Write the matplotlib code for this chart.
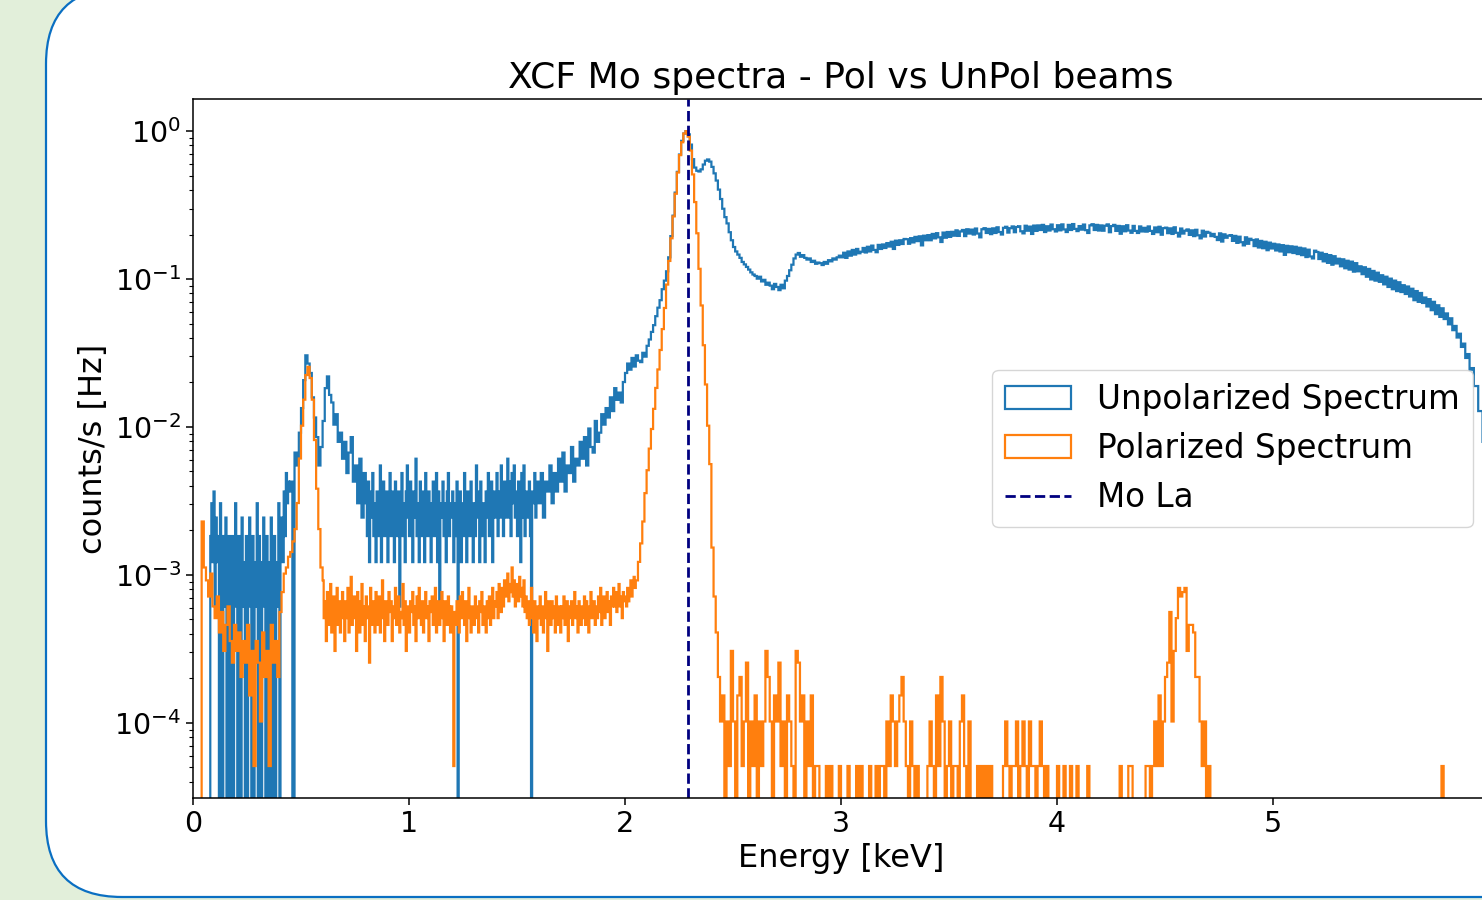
import numpy as np
import matplotlib.pyplot as plt
from matplotlib.patches import FancyBboxPatch

e_max = 6.0
mo_la = 2.293  # keV

# one count in a bin -> counts/s
unpol_rate_per_count = 6.1e-4
pol_rate_per_count = 5.1e-5

# Unpolarized spectrum, counts per bin (5 eV bins where noisy, 10 eV elsewhere)
unpol_000_045 = [0, 0, 0, 0, 0, 0, 0, 0, 0, 0, 0, 0, 0, 0, 0, 0,
                 3, 5, 2, 6, 1, 4, 2, 3, 0, 5,
                 2, 0, 3, 1, 4, 0, 2, 3, 0, 1,
                 3, 0, 2, 5, 1, 0, 3, 2, 0, 4,
                 1, 2, 0, 3, 0, 2, 4, 1, 0, 3,
                 0, 2, 1, 5, 0, 3, 1, 0, 2, 4,
                 1, 0, 3, 2, 0, 1, 4, 0, 2, 3,
                 0, 2, 1, 5, 0, 3, 4, 2, 6, 3,
                 8, 5, 7, 6]
unpol_045_080 = [7, 0, 11, 9, 15, 22, 34, 50, 44, 38,
                 26, 19, 14, 9, 12, 18, 30, 36, 27, 24,
                 17, 20, 13, 15, 10, 13, 8, 11, 14, 7,
                 9, 5, 10, 4, 8]
unpol_080_160 = [5, 3, 7, 2, 6, 4, 8, 3, 5, 2,
                 6, 4, 3, 9, 2, 5, 7, 3, 4, 6,
                 2, 5, 8, 3, 6, 4, 2, 7, 5, 3,
                 6, 1, 4, 8, 3, 5, 2, 6, 9, 4,
                 3, 7, 5, 2, 6, 4, 10, 3, 5, 2,
                 7, 4, 3, 6, 2, 8, 5, 3, 6, 4,
                 2, 5, 7, 3, 4, 8, 2, 6, 1, 5,
                 4, 7, 3, 5, 2, 6, 8, 3, 5, 4,
                 6, 2, 5, 3, 7, 0, 4, 6, 2, 5,
                 3, 8, 4, 2, 6, 5, 3, 7, 4, 2,
                 5, 3, 9, 4, 6, 2, 7, 3, 5, 4,
                 2, 6, 4, 8, 3, 5, 7, 2, 6, 4,
                 5, 8, 3, 6, 4, 9, 5, 3, 7, 4,
                 6, 10, 4, 7, 3, 8, 5, 9, 4, 6,
                 3, 7, 5, 2, 8, 4, 9, 3, 6, 5,
                 4, 7, 3, 0, 6, 5, 8, 4, 6, 7]
unpol_160_220 = [5, 8, 4, 7, 6, 9, 5, 8, 6, 10,
                 7, 11, 6, 9, 8, 12, 7, 10, 9, 13,
                 10, 14, 9, 16, 12, 11, 18, 13, 15, 20,
                 17, 22, 19, 26, 21, 30, 25, 28, 24, 33,
                 38, 44, 40, 48, 42, 50, 46, 45, 52, 49,
                 58, 64, 72, 80, 92, 105, 118, 140, 160, 185]
unpol_220_260 = [230, 320, 440, 630, 870, 1140, 1410, 1580, 1640, 1560,
                 1330, 1060, 930, 885, 875, 905, 975, 1035, 1055, 1020,
                 940, 850, 760, 660, 570, 490, 430, 390, 340, 300,
                 270, 252, 240, 228, 214, 206, 198, 190, 182, 176]
unpol_260_300 = [172, 165, 170, 158, 162, 150, 155, 148, 140, 152,
                 145, 138, 150, 142, 160, 172, 188, 205, 226, 240,
                 246, 232, 238, 228, 222, 226, 214, 218, 208, 212,
                 210, 204, 214, 208, 220, 216, 226, 222, 230, 236]
unpol_300_600 = [230, 247, 228, 252, 236, 258, 240, 262, 245, 251,
                 266, 248, 271, 252, 276, 258, 249, 279, 262, 281,
                 266, 287, 272, 293, 262, 298, 279, 300, 283, 306,
                 305, 284, 310, 290, 316, 296, 319, 277, 322, 300,
                 325, 300, 331, 309, 335, 314, 292, 338, 312, 341,
                 316, 342, 322, 350, 321, 344, 352, 320, 356, 333,
                 354, 328, 360, 333, 314, 356, 362, 336, 358, 330,
                 361, 336, 367, 341, 328, 364, 370, 338, 362, 372,
                 340, 369, 373, 345, 334, 376, 348, 371, 331, 377,
                 347, 378, 352, 381, 341, 373, 349, 383, 356, 344,
                 379, 350, 384, 355, 341, 381, 352, 386, 358, 346,
                 374, 354, 383, 351, 336, 378, 385, 352, 381, 349,
                 378, 348, 376, 384, 340, 374, 381, 347, 375, 332,
                 373, 345, 379, 349, 337, 375, 347, 336, 372, 344,
                 364, 343, 372, 347, 331, 366, 340, 370, 327, 362,
                 365, 335, 361, 331, 367, 337, 318, 360, 333, 348,
                 355, 326, 350, 320, 353, 324, 309, 348, 318, 342,
                 337, 320, 331, 316, 301, 334, 294, 329, 312, 322,
                 325, 297, 321, 288, 317, 291, 277, 314, 284, 307,
                 301, 274, 304, 268, 297, 265, 293, 257, 289, 264,
                 284, 256, 281, 252, 278, 239, 275, 249, 273, 246,
                 271, 242, 267, 238, 264, 231, 259, 233, 226, 255,
                 250, 224, 247, 216, 242, 211, 238, 205, 234, 209,
                 225, 200, 223, 194, 218, 190, 215, 184, 210, 185,
                 200, 177, 197, 170, 192, 163, 186, 160, 181, 157,
                 174, 151, 170, 145, 165, 140, 160, 136, 156, 134,
                 149, 130, 146, 125, 141, 118, 136, 115, 132, 113,
                 123, 107, 120, 101, 115, 95, 109, 91, 104, 88,
                 96, 81, 89, 74, 79, 66, 70, 57, 60, 48,
                 51, 40, 41, 31, 31, 21, 21, 13, 11, 6]

# Polarized spectrum, counts per bin
pol_000_060 = [0, 0, 0, 0, 45, 22, 18, 14, 20, 12,
               10, 14, 8, 11, 6, 9, 12, 7, 5, 9,
               6, 8, 4, 7, 5, 9, 3, 6, 1, 7,
               5, 2, 8, 4, 6, 1, 9, 5, 7, 4,
               11, 15, 20, 22, 26, 28, 33, 40, 60, 120,
               200, 300, 440, 500, 420, 300, 160, 75, 40, 22]
pol_060_205 = [18, 10, 13, 7, 15, 9, 12, 17, 8, 11,
               14, 6, 12, 16, 9, 13, 8, 11, 15, 10,
               7, 13, 10, 16, 8, 12, 19, 9, 11, 14,
               10, 6, 15, 11, 8, 13, 17, 9, 12, 7,
               14, 10, 12, 5, 16, 9, 11, 13, 8, 15,
               11, 9, 14, 8, 12, 18, 10, 7, 13, 11,
               9, 15, 11, 13, 7, 12, 10, 16, 9, 12,
               14, 8, 11, 10, 17, 9, 13, 6, 12, 10,
               8, 13, 11, 15, 9, 12, 7, 14, 10, 16,
               12, 9, 13, 8, 11, 15, 10, 12, 7, 13,
               11, 14, 9, 12, 16, 8, 10, 13, 9, 11,
               15, 10, 7, 13, 11, 9, 14, 12, 8, 12,
               10, 1, 11, 9, 13, 12, 8, 14, 10, 15,
               12, 9, 13, 7, 11, 16, 10, 8, 12, 11,
               9, 14, 10, 12, 8, 13, 11, 15, 9, 12,
               11, 8, 13, 10, 14, 9, 12, 16, 10, 13,
               12, 15, 10, 17, 13, 11, 16, 12, 18, 14,
               16, 20, 13, 17, 15, 22, 14, 18, 12, 16,
               17, 13, 19, 14, 16, 12, 18, 11, 14, 10,
               13, 9, 12, 16, 10, 8, 13, 11, 7, 12,
               10, 14, 9, 12, 8, 11, 15, 10, 6, 13,
               11, 9, 13, 10, 12, 8, 14, 11, 9, 12,
               8, 12, 10, 14, 9, 11, 13, 7, 12, 10,
               13, 9, 11, 15, 10, 12, 8, 13, 11, 9,
               12, 10, 14, 9, 13, 11, 8, 12, 15, 10,
               11, 13, 9, 12, 10, 14, 11, 16, 9, 12,
               14, 10, 12, 15, 11, 13, 9, 14, 12, 16,
               12, 15, 11, 13, 17, 12, 14, 10, 15, 13,
               14, 12, 16, 13, 15, 18, 14, 17, 19, 16]
pol_205_245 = [18, 24, 32, 45, 70, 100, 140, 190, 260, 360,
               480, 650, 900, 1250, 1800, 2600, 3700, 5200, 7400, 10300,
               13500, 16500, 18900, 19600, 18000, 14500, 10000, 6500, 4000, 2300,
               1300, 700, 380, 200, 110, 30, 14, 8, 4, 2]
pol_245_475 = [3, 0, 2, 1, 6, 2, 0, 3, 4, 1,
               2, 5, 0, 2, 1, 3, 0, 2, 1, 2,
               6, 4, 2, 0, 3, 2, 5, 1, 2, 0,
               3, 2, 1, 0, 6, 5, 2, 3, 0, 2,
               1, 3, 0, 1, 1, 0, 0, 0, 1, 0,
               1, 0, 0, 0, 1, 0, 0, 0, 1, 0,
               0, 0, 1, 0, 1, 0, 0, 0, 1, 0,
               0, 1, 0, 1, 1, 0, 2, 1, 3, 2,
               1, 2, 3, 4, 2, 1, 0, 2, 1, 0,
               1, 0, 0, 0, 0, 1, 2, 1, 0, 3,
               1, 4, 2, 0, 1, 2, 0, 1, 1, 0,
               2, 3, 1, 0, 2, 0, 0, 0, 1, 0,
               1, 0, 1, 0, 1, 0, 0, 0, 0, 0,
               1, 2, 1, 0, 1, 1, 2, 0, 1, 2,
               1, 0, 2, 1, 1, 0, 1, 2, 1, 0,
               1, 0, 0, 0, 0, 1, 0, 0, 1, 0,
               0, 1, 0, 0, 1, 0, 0, 0, 0, 1,
               0, 0, 0, 0, 0, 0, 0, 0, 0, 0,
               0, 0, 0, 0, 1, 0, 0, 0, 1, 1,
               0, 0, 0, 0, 0, 0, 1, 1, 0, 1,
               2, 1, 3, 1, 2, 4, 5, 11, 2, 6,
               10, 16, 14, 15, 16, 6, 9, 9, 8, 4,
               4, 2, 1, 2, 0, 1, 0, 0, 0, 0]
pol_578 = [1]  # lone count near 5.78 keV

# (start keV, bin width keV, counts)
unpol_segments = [(0.00, 0.005, unpol_000_045), (0.45, 0.01, unpol_045_080),
                  (0.80, 0.005, unpol_080_160), (1.60, 0.01, unpol_160_220),
                  (2.20, 0.01, unpol_220_260), (2.60, 0.01, unpol_260_300),
                  (3.00, 0.01, unpol_300_600)]
pol_segments = [(0.00, 0.01, pol_000_060), (0.60, 0.005, pol_060_205),
                (2.05, 0.01, pol_205_245), (2.45, 0.01, pol_245_475),
                (5.78, 0.01, pol_578)]


def to_hist(segments):
    lefts, rights, counts = [], [], []
    for start, width, c in segments:
        left = start + width * np.arange(len(c))
        lefts.append(left)
        rights.append(left + width)
        counts.append(c)
    lefts = np.concatenate(lefts)
    rights = np.concatenate(rights)
    edges = np.unique(np.round(np.concatenate([lefts, rights]), 6))
    return (lefts + rights) / 2, edges, np.concatenate(counts).astype(float)


unpol_e, unpol_edges, unpol_counts = to_hist(unpol_segments)
pol_e, pol_edges, pol_counts = to_hist(pol_segments)

# slide background + rounded frame
fig = plt.figure(figsize=(14.82, 9), dpi=100, facecolor='#e2efda')
bg = fig.add_axes([0, 0, 1, 1])
bg.set_xlim(0, 1482)
bg.set_ylim(900, 0)
bg.axis('off')
bg.add_patch(FancyBboxPatch((46, -12), 1700, 909, boxstyle='round,pad=0,rounding_size=76',
                            fc='white', ec='#0a6fc2', lw=1.6))

ax = fig.add_axes([193 / 1482, 102 / 900, 1296 / 1482, 699 / 900])
ax.hist(unpol_e, bins=unpol_edges, weights=unpol_counts * unpol_rate_per_count,
        histtype='step', color='C0', lw=1.6, label='Unpolarized Spectrum')
ax.hist(pol_e, bins=pol_edges, weights=pol_counts * pol_rate_per_count,
        histtype='step', color='C1', lw=1.6, label='Polarized Spectrum')
ax.axvline(mo_la, color='navy', ls='--', lw=2.0, label='Mo La')
ax.set_yscale('log')
ax.set_xlim(0, e_max)
ax.set_ylim(3.1e-5, 1.65)

ax.set_title('XCF Mo spectra - Pol vs UnPol beams', fontsize=26, pad=8)
ax.set_xlabel('Energy [keV]', fontsize=23)
ax.set_ylabel('counts/s [Hz]', fontsize=23)
ax.tick_params(labelsize=20.5, length=5, width=1.1)
ax.tick_params(which='minor', length=3, width=0.8)
for s in ax.spines.values():
    s.set_linewidth(1.1)
ax.legend(loc='center right', fontsize=23.5)

fig.savefig('out.png', dpi=100, facecolor=fig.get_facecolor())
